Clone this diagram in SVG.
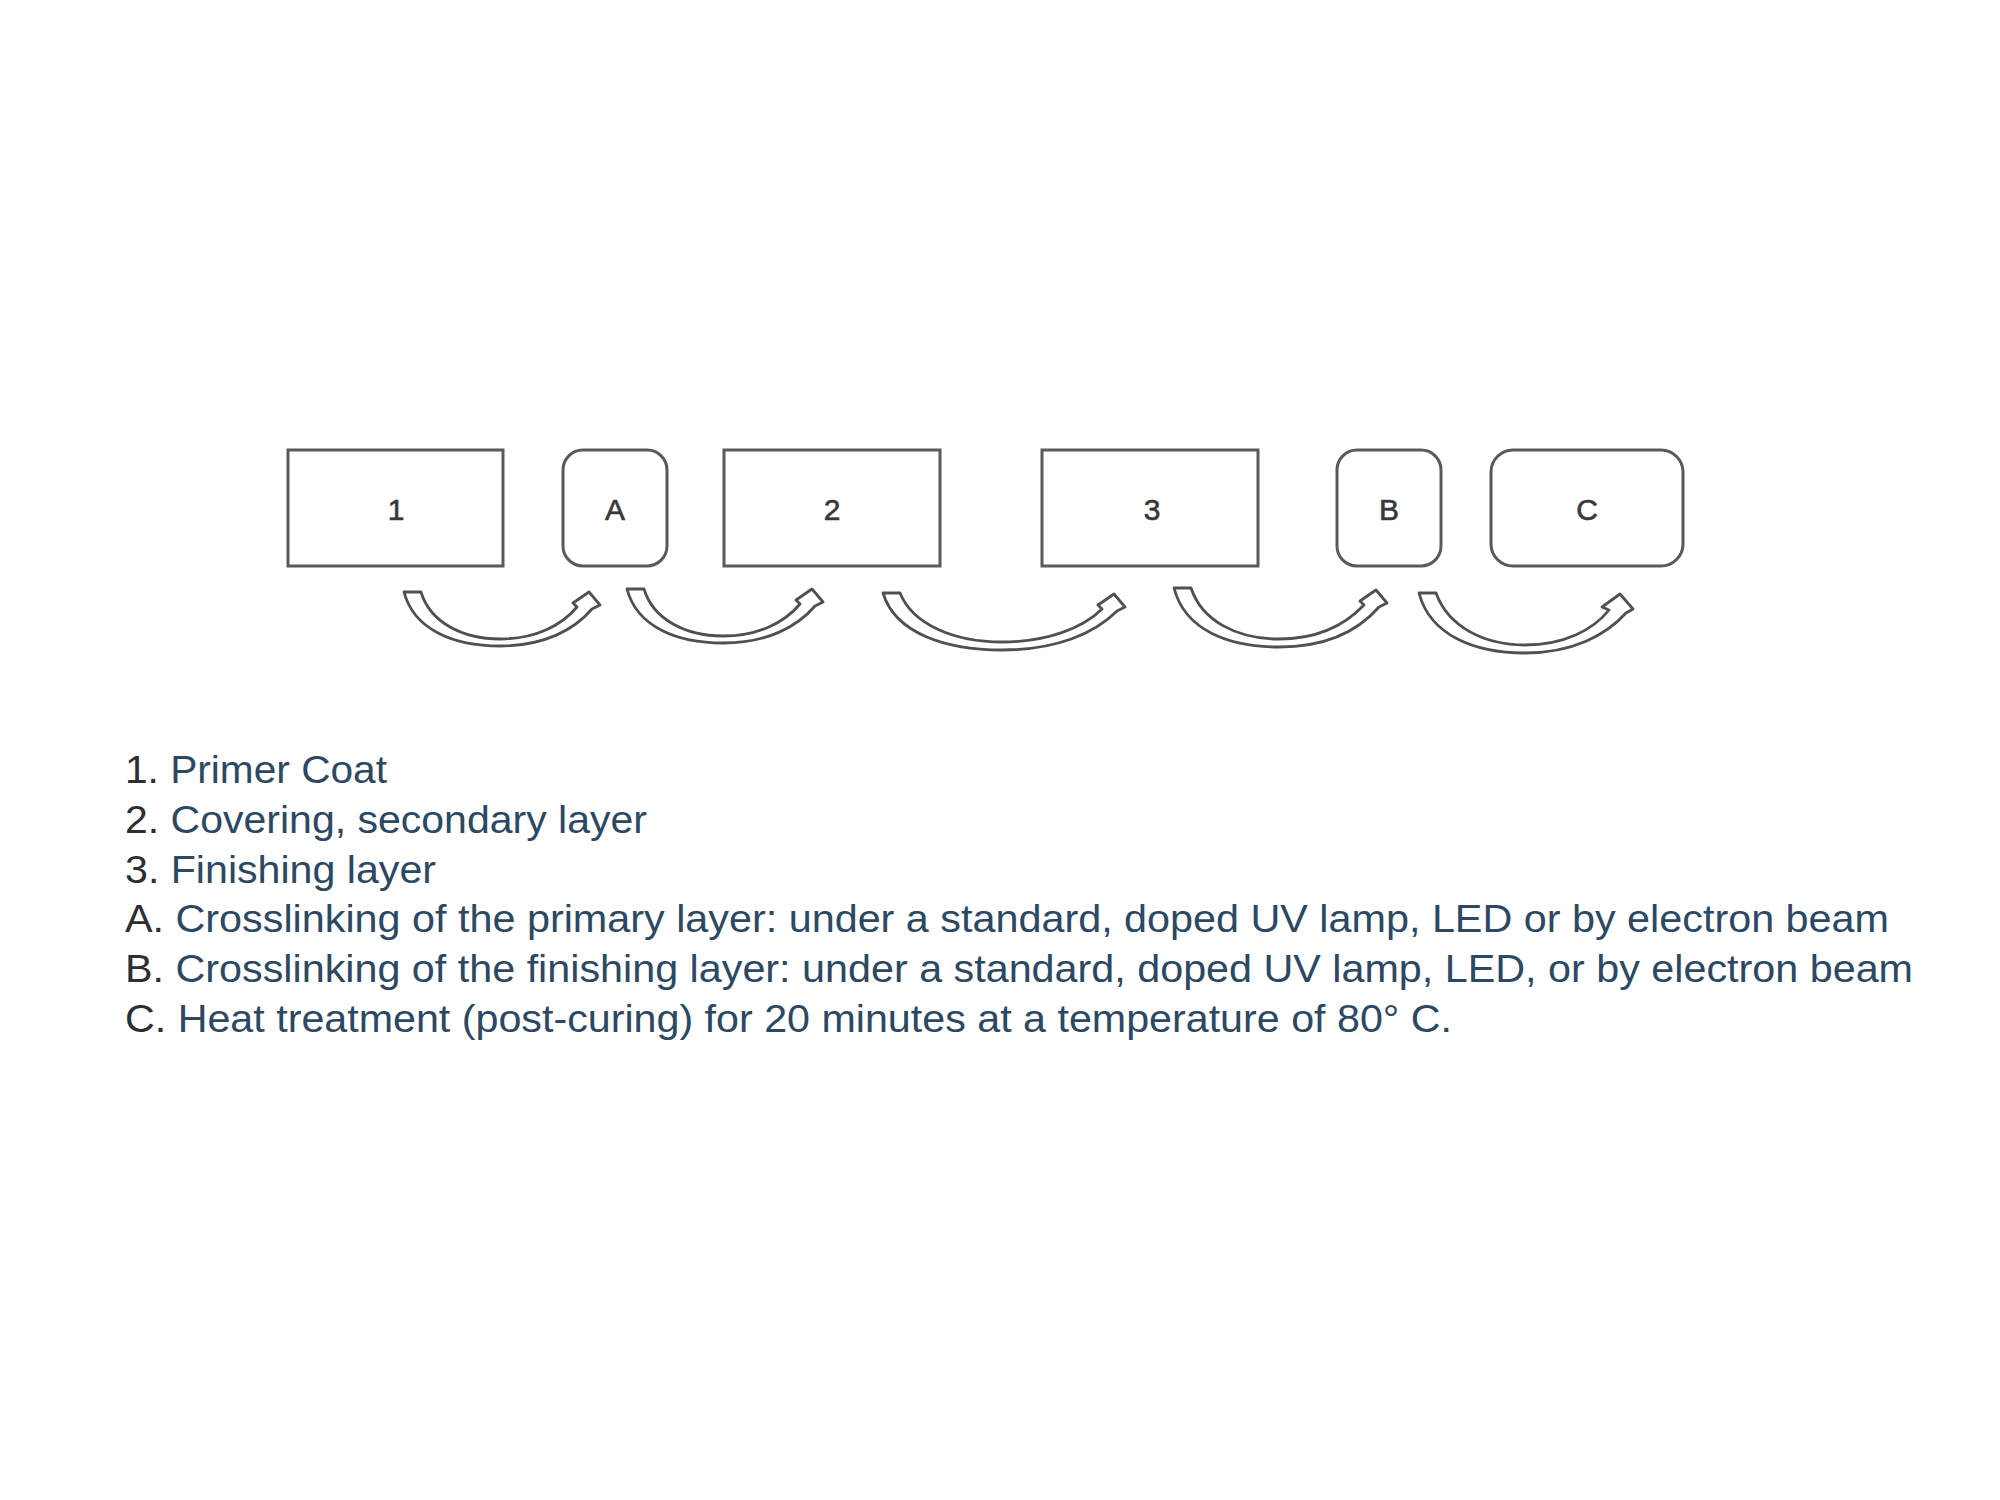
<svg xmlns="http://www.w3.org/2000/svg" width="2000" height="1500" viewBox="0 0 2000 1500">
  <style>
    .box { fill: #ffffff; stroke: #5a5a5a; stroke-width: 3; }
    .lbl { font-family: "Liberation Sans", Arial, sans-serif; font-size: 30px; fill: #383838; stroke: #383838; stroke-width: 0.6; text-anchor: middle; }
    .arr { fill: #ffffff; stroke: #505050; stroke-width: 2.8; stroke-linejoin: round; }
    .leg { font-family: "Liberation Sans", Arial, sans-serif; font-size: 38px; fill: #2c4862; }
    .num { fill: #2e2e2e; }
  </style>
  <rect x="0" y="0" width="2000" height="1500" fill="#ffffff"/>

  <g id="node-1">
    <rect class="box" x="288" y="450" width="215" height="116"/>
    <text class="lbl" x="396" y="520">1</text>
  </g>
  <g id="node-A">
    <rect class="box" x="563" y="450" width="104" height="116" rx="20" ry="20"/>
    <text class="lbl" x="615" y="520">A</text>
  </g>
  <g id="node-2">
    <rect class="box" x="724" y="450" width="216" height="116"/>
    <text class="lbl" x="832" y="520">2</text>
  </g>
  <g id="node-3">
    <rect class="box" x="1042" y="450" width="216" height="116"/>
    <text class="lbl" x="1152" y="520">3</text>
  </g>
  <g id="node-B">
    <rect class="box" x="1337" y="450" width="104" height="116" rx="20" ry="20"/>
    <text class="lbl" x="1389" y="520">B</text>
  </g>
  <g id="node-C">
    <rect class="box" x="1491" y="450" width="192" height="116" rx="22" ry="22"/>
    <text class="lbl" x="1587" y="520">C</text>
  </g>

  <g id="connectors">
    <path class="arr" d="M404,592 C414,630 454,646 500,646 C544,646 574,630 592,609 L600,605 L589,592 L573,603 L577,607 C562,625 536,639 500,639 C462,639 430,622 421,592 Z"/>
    <path class="arr" d="M627,589 C637,627 677,643 723,643 C767,643 797,627 815,606 L823,602 L812,589 L796,600 L800,604 C785,622 759,636 723,636 C685,636 653,619 644,589 Z"/>
    <path class="arr" d="M883,593 C895,633 945,650 1002,650 C1057,650 1095,633 1117,611 L1125,607 L1114,594 L1098,605 L1102,609 C1083,628 1047,642 1002,642 C955,642 913,625 900,593 Z"/>
    <path class="arr" d="M1174,588 C1185,630 1228,647 1279,647 C1327,647 1359,630 1379,607 L1387,603 L1376,590 L1360,601 L1364,605 C1346,624 1318,639 1279,639 C1237,639 1202,621 1191,588 Z"/>
    <path class="arr" d="M1419,593 C1430,635 1474,653 1525,653 C1573,653 1606,635 1626,613 L1633,609 L1620,594 L1602,607 L1609,610 C1593,630 1564,645 1525,645 C1483,645 1448,626 1436,593 Z"/>
  </g>

  <g id="legend">
    <text class="leg" x="125" y="783" textLength="262" lengthAdjust="spacingAndGlyphs"><tspan class="num">1.</tspan> Primer Coat</text>
    <text class="leg" x="125" y="833" textLength="522" lengthAdjust="spacingAndGlyphs"><tspan class="num">2.</tspan> Covering, secondary layer</text>
    <text class="leg" x="125" y="883" textLength="311" lengthAdjust="spacingAndGlyphs"><tspan class="num">3.</tspan> Finishing layer</text>
    <text class="leg" x="125" y="932" textLength="1764" lengthAdjust="spacingAndGlyphs"><tspan class="num">A.</tspan> Crosslinking of the primary layer: under a standard, doped UV lamp, LED or by electron beam</text>
    <text class="leg" x="125" y="982" textLength="1788" lengthAdjust="spacingAndGlyphs"><tspan class="num">B.</tspan> Crosslinking of the finishing layer: under a standard, doped UV lamp, LED, or by electron beam</text>
    <text class="leg" x="125" y="1032" textLength="1327" lengthAdjust="spacingAndGlyphs"><tspan class="num">C.</tspan> Heat treatment (post-curing) for 20 minutes at a temperature of 80° C.</text>
  </g>
</svg>
